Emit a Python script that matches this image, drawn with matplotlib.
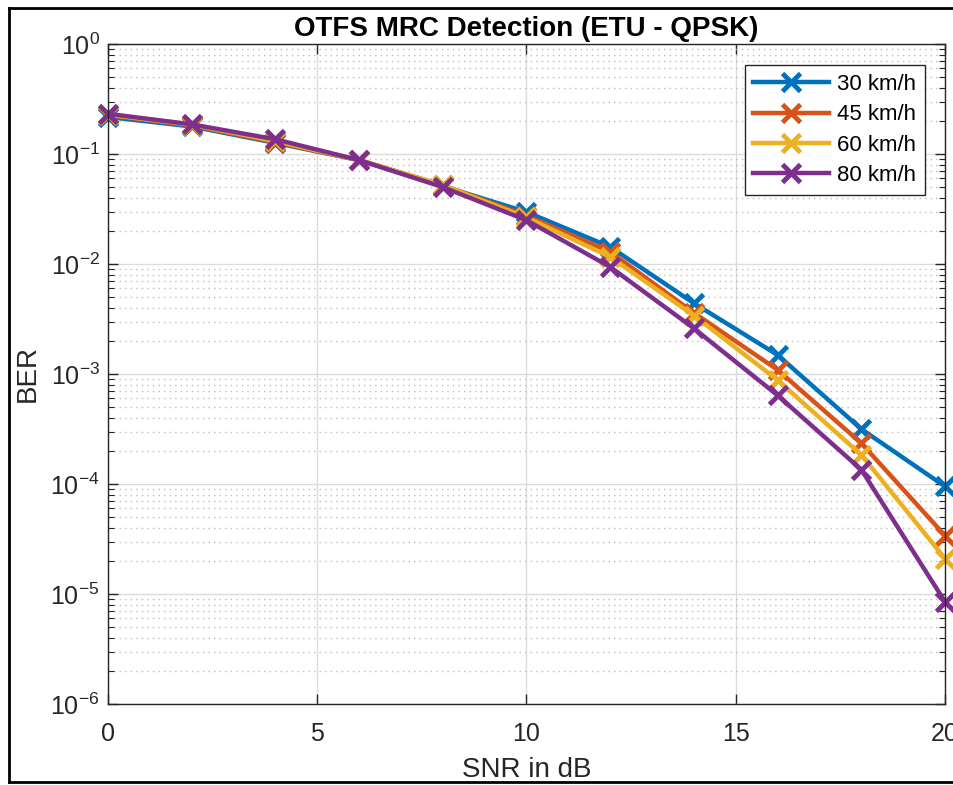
import math
import matplotlib
matplotlib.use("Agg")
import matplotlib.pyplot as plt
from matplotlib.lines import Line2D
from matplotlib.ticker import LogLocator, NullFormatter, FuncFormatter

plt.rcParams['font.family'] = ['Liberation Sans', 'DejaVu Sans']
plt.rcParams['mathtext.fontset'] = 'custom'
plt.rcParams['mathtext.rm'] = 'Liberation Sans'
plt.rcParams['mathtext.it'] = 'Liberation Sans'

# data
snr = [0, 2, 4, 6, 8, 10, 12, 14, 16, 18, 20]
ber_30 = [0.217, 0.178, 0.126, 0.088, 0.051, 0.0297, 0.0143, 0.0044, 0.00149, 0.000316, 9.5e-5]
ber_45 = [0.225, 0.182, 0.128, 0.088, 0.052, 0.0275, 0.0129, 0.0036, 0.00109, 0.000235, 3.4e-5]
ber_60 = [0.228, 0.185, 0.131, 0.088, 0.052, 0.0265, 0.0116, 0.0034, 0.00088, 0.000184, 2.1e-5]
ber_80 = [0.232, 0.186, 0.136, 0.088, 0.050, 0.025, 0.0094, 0.0026, 0.00064, 0.000135, 8.5e-6]
labels = ['30 km/h', '45 km/h', '60 km/h', '80 km/h']
colors = ['#0072BD', '#D95319', '#EDB120', '#7E2F8E']

fig = plt.figure(figsize=(9.54, 7.85), dpi=100)
ax = fig.add_axes([108 / 954, 1 - 704 / 785, (945 - 108) / 954, (704 - 44) / 785])

for ber, lab, c in zip([ber_30, ber_45, ber_60, ber_80], labels, colors):
    ax.semilogy(snr, ber, color=c, lw=3.2, marker='x', ms=13, mew=3.5, label=lab, clip_on=False)

ax.set_xlim(0, 20)
ax.set_ylim(1e-6, 1)
ax.set_xticks([0, 5, 10, 15, 20])
ax.yaxis.set_major_locator(LogLocator(base=10, numticks=10))
ax.yaxis.set_major_formatter(FuncFormatter(lambda v, p: r'$\mathregular{10^{%d}}$' % round(math.log10(v))))
ax.yaxis.set_minor_locator(LogLocator(base=10, subs=range(2, 10), numticks=100))
ax.yaxis.set_minor_formatter(NullFormatter())

ax.grid(True, which='major', color='#dcdcdc', lw=1, ls='-')
ax.grid(True, which='minor', axis='y', color='#bdbdbd', lw=1, ls=(0, (1, 3)))
ax.set_axisbelow(True)

ax.tick_params(which='both', direction='in', top=True, right=True, colors='#262626', labelsize=18)
ax.tick_params(which='major', length=7, width=1)
ax.tick_params(which='minor', length=4, width=0.8)
ax.tick_params(axis='x', pad=13)
ax.tick_params(axis='y', pad=6)
for s in ax.spines.values():
    s.set_color('#262626')
    s.set_linewidth(1)

ax.set_xlabel('SNR in dB', fontsize=20, color='#262626', labelpad=8)
ax.set_ylabel('BER', fontsize=20, color='#262626', labelpad=7)
ax.set_title('OTFS MRC Detection (ETU - QPSK)', fontsize=20, fontweight='bold', pad=6)

leg = ax.legend(loc='upper right', bbox_to_anchor=(0.976, 0.968), fontsize=16, handlelength=3.4,
                fancybox=False, framealpha=1, edgecolor='#262626', borderpad=0.4, labelspacing=0.42,
                handletextpad=0.36, borderaxespad=0)
leg.get_frame().set_linewidth(1)

# black frame round the figure (cut on the right like the reference)
W, H = 954, 785
fig.add_artist(Line2D([9 / W, 9 / W], [1 - 8 / H, 1 - 782 / H], color='black', lw=2, transform=fig.transFigure))
fig.add_artist(Line2D([9 / W, 1], [1 - 8 / H, 1 - 8 / H], color='black', lw=2, transform=fig.transFigure))
fig.add_artist(Line2D([9 / W, 1], [1 - 782 / H, 1 - 782 / H], color='black', lw=2, transform=fig.transFigure))

fig.savefig('out.png', dpi=100)
